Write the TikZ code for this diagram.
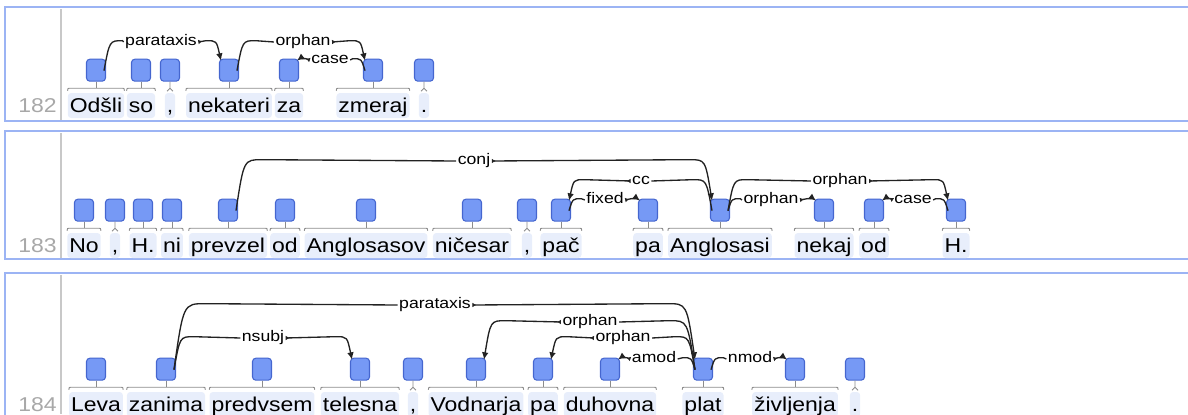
\documentclass[tikz,border=0pt]{standalone}
\usepackage{fontspec}
\setmainfont[FakeStretch=1.15]{Liberation Sans}
\usepackage{tikz}
\usetikzlibrary{
  arrows.meta,
  positioning,
  calc
}
\definecolor{udBox}{HTML}{7699F5}
\definecolor{udBoxLine}{HTML}{4566CF}
\definecolor{udHi}{HTML}{E8EEFB}
\definecolor{udFrame}{HTML}{9CB4F4}
\definecolor{udSep}{HTML}{C8C8C8}
\definecolor{udNum}{HTML}{A8A8A8}
\definecolor{udBracket}{HTML}{8C8C8C}
\definecolor{udArc}{HTML}{222222}
\newcommand\wordfont{\fontsize{15}{18}\selectfont}
\newcommand\labelfont{\fontsize{11.5}{13}\selectfont}
\tikzset{
  tokbox/.style={
    draw=udBoxLine, fill=udBox, rounded corners=2.5pt, line width=0.8pt,
    minimum width=14.25pt, minimum height=16.5pt, inner sep=0pt
  },
  token/.style={
    fill=udHi, rounded corners=2.5pt, inner xsep=1.5pt, inner ysep=0pt,
    text height=14.25pt, text depth=4.5pt, font=\wordfont, anchor=base
  },
  sentno/.style={text=udNum, font=\wordfont, anchor=base east, inner sep=0pt},
  deplabel/.style={font=\labelfont, inner xsep=1pt, inner ysep=0pt, text height=1ex, text depth=0pt},
  depline/.style={line width=1pt, udArc},
  bracket/.style={udBracket, line width=0.7pt},
  panel/.style={draw=udFrame, line width=1.3pt},
  sepline/.style={udSep, line width=1.5pt}
}
% token with its box and bracket
\newcommand\deptok[4]{%
  \node[token] (#1) at (#2,#3) {#4};
  \node[tokbox, above=8.25pt of #1] (#1b) {};
  \draw[bracket] ($(#1.north west)+(0,-2)$) .. controls ($(#1.north west)+(0,-4.5)$) .. ($(#1.north west)+(4,-4.5)$)
    -- ($(#1.north east)+(-4,-4.5)$) .. controls ($(#1.north east)+(0,-4.5)$) .. ($(#1.north east)+(0,-2)$);
  \draw[bracket] (#1b.south) -- ($(#1.north)+(0,-4.5)$);
}
\newcommand\deppunct[4]{%
  \node[token] (#1) at (#2,#3) {#4};
  \node[tokbox, above=8.25pt of #1] (#1b) {};
  \draw[bracket] (#1b.south) -- ($(#1.north)+(0,-4.5)$) -- ($(#1.north)+(-3,-1.5)$)
    ($(#1.north)+(0,-4.5)$) -- ($(#1.north)+(3,-1.5)$);
}
% head, dependent, direction, rise, label x, label y, relation, label name
\newcommand\deparc[8]{%
  \pgfmathsetmacro\arcws{0.35*(#4+12)+8}
  \pgfmathsetmacro\arcwt{0.35*(#4+2)+8}
  \pgfmathsetmacro\arcsa{(#3)*8}
  \pgfmathsetmacro\arcsc{(#3)*(8+0.3*\arcws)}
  \pgfmathsetmacro\arcse{(#3)*(8+\arcws)}
  \pgfmathsetmacro\arcta{-(#3)*8}
  \pgfmathsetmacro\arctc{-(#3)*(8+0.3*\arcwt)}
  \pgfmathsetmacro\arcte{-(#3)*(8+\arcwt)}
  \ifnum#3>0 \def\nearside{west}\def\farside{east}\else\def\nearside{east}\def\farside{west}\fi
  \node[deplabel] (#8) at (#5,#6) {#7};
  \draw[depline] ($(#1.north)+(\arcsa,12)$) .. controls ($(#1.north)+(\arcsc,-#4)$) .. ($(#1.north)+(\arcse,-#4)$) -- (#8.\nearside);
  \draw[depline, {Latex[reversed,length=3pt,width=3.5pt]}-{Latex[length=5.5pt,width=5pt]}] (#8.\farside)
    -- ($(#2.north)+(\arcte,-#4)$) .. controls ($(#2.north)+(\arctc,-#4)$) .. ($(#2.north)+(\arcta,2)$);
}

\begin{document}
\begin{tikzpicture}[x=0.75pt, y=-0.75pt]
  \useasboundingbox (0,0) rectangle (1188,414);

  % panels
  \draw[panel] (5,7) rectangle (1200,121);
  \draw[panel] (5,131) rectangle (1200,259);
  \draw[panel] (5,273) rectangle (1200,440);
  \draw[sepline] (61,9) -- (61,120);
  \draw[sepline] (61,133) -- (61,258);
  \draw[sepline] (61,275) -- (61,414);

  % sentence 182
  \node[sentno] (n182) at (57,112) {182};
  \deptok{a1}{96}{112}{Odšli}
  \deptok{a2}{141}{112}{so}
  \deppunct{a3}{170}{112}{,}
  \deptok{a4}{229}{112}{nekateri}
  \deptok{a5}{289}{112}{za}
  \deptok{a6}{373}{112}{zmeraj}
  \deppunct{a7}{424}{112}{.}
  \deparc{a1b}{a4b}{1}{18}{161}{42}{parataxis}{ra1}
  \deparc{a4b}{a6b}{1}{18}{303}{42}{orphan}{ra2}
  \deparc{a6b}{a5b}{-1}{0}{330}{60}{case}{ra3}

  % sentence 183
  \node[sentno] (n183) at (57,252) {183};
  \deptok{b1}{84}{252}{No}
  \deppunct{b2}{115}{252}{,}
  \deptok{b3}{143}{252}{H.}
  \deptok{b4}{172}{252}{ni}
  \deptok{b5}{228}{252}{prevzel}
  \deptok{b6}{285}{252}{od}
  \deptok{b7}{366}{252}{Anglosasov}
  \deptok{b8}{472}{252}{ničesar}
  \deppunct{b9}{527}{252}{,}
  \deptok{b10}{561}{252}{pač}
  \deptok{b11}{648}{252}{pa}
  \deptok{b12}{720}{252}{Anglosasi}
  \deptok{b13}{824}{252}{nekaj}
  \deptok{b14}{874}{252}{od}
  \deptok{b15}{956}{252}{H.}
  \deparc{b5b}{b12b}{1}{39}{474}{161}{conj}{rb1}
  \deparc{b12b}{b10b}{-1}{19}{641}{181}{cc}{rb2}
  \deparc{b10b}{b11b}{1}{0}{605}{200}{fixed}{rb3}
  \deparc{b12b}{b15b}{1}{19}{840}{181}{orphan}{rb4}
  \deparc{b12b}{b13b}{1}{0}{771}{200}{orphan}{rb5}
  \deparc{b15b}{b14b}{-1}{0}{913}{200}{case}{rb6}

  % sentence 184
  \node[sentno] (n184) at (57,411) {184};
  \deptok{c1}{96}{411}{Leva}
  \deptok{c2}{166}{411}{zanima}
  \deptok{c3}{262}{411}{predvsem}
  \deptok{c4}{360}{411}{telesna}
  \deppunct{c5}{413}{411}{,}
  \deptok{c6}{476}{411}{Vodnarja}
  \deptok{c7}{543}{411}{pa}
  \deptok{c8}{610}{411}{duhovna}
  \deptok{c9}{703}{411}{plat}
  \deptok{c10}{795}{411}{življenja}
  \deppunct{c11}{855}{411}{.}
  \deparc{c2b}{c9b}{1}{54}{435}{305}{parataxis}{rc1}
  \deparc{c2b}{c4b}{1}{21}{263}{338}{nsubj}{rc2}
  \deparc{c9b}{c6b}{-1}{37}{590}{322}{orphan}{rc3}
  \deparc{c9b}{c7b}{-1}{21}{623}{338}{orphan}{rc4}
  \deparc{c9b}{c8b}{-1}{0}{654}{359}{amod}{rc5}
  \deparc{c9b}{c10b}{1}{0}{750}{359}{nmod}{rc6}
\end{tikzpicture}
\end{document}
